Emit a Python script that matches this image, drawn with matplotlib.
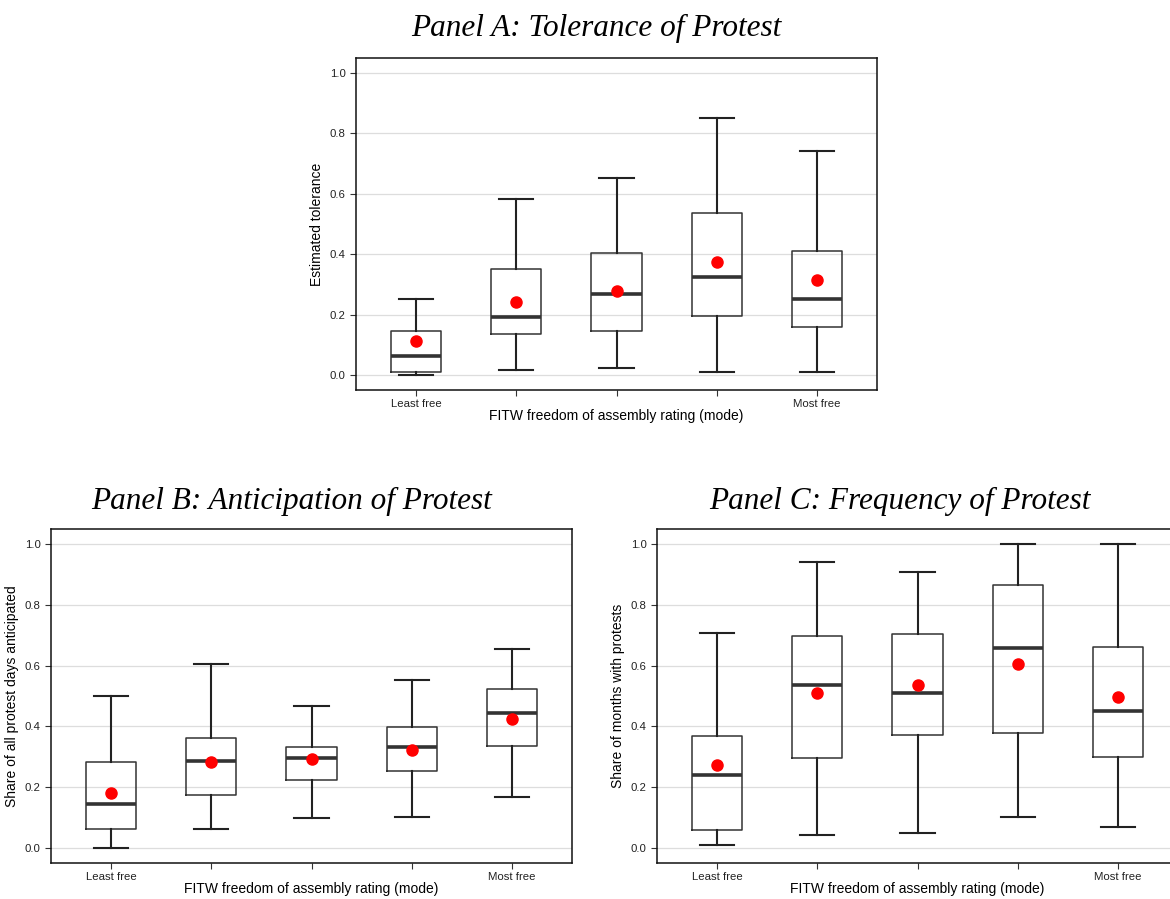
import matplotlib
matplotlib.use("Agg")
import matplotlib.pyplot as plt

plt.rcParams["font.family"] = ["Liberation Sans", "DejaVu Sans"]

categories = ["Least free", "", "", "", "Most free"]

# Panel A: tolerance of protest
tol_whislo = [0.000, 0.016, 0.024, 0.009, 0.009]
tol_q1 = [0.009, 0.136, 0.146, 0.196, 0.159]
tol_med = [0.064, 0.192, 0.267, 0.325, 0.251]
tol_q3 = [0.144, 0.350, 0.404, 0.538, 0.411]
tol_whishi = [0.250, 0.583, 0.651, 0.851, 0.743]
tol_mean = [0.112, 0.243, 0.277, 0.373, 0.315]

# Panel B: anticipation of protest
ant_whislo = [0.000, 0.062, 0.099, 0.100, 0.168]
ant_q1 = [0.061, 0.175, 0.223, 0.253, 0.336]
ant_med = [0.143, 0.286, 0.295, 0.331, 0.443]
ant_q3 = [0.282, 0.363, 0.333, 0.398, 0.523]
ant_whishi = [0.500, 0.606, 0.466, 0.552, 0.655]
ant_mean = [0.179, 0.282, 0.293, 0.323, 0.423]

# Panel C: frequency of protest
freq_whislo = [0.009, 0.043, 0.050, 0.101, 0.067]
freq_q1 = [0.059, 0.295, 0.371, 0.379, 0.300]
freq_med = [0.241, 0.535, 0.509, 0.659, 0.451]
freq_q3 = [0.368, 0.697, 0.703, 0.865, 0.663]
freq_whishi = [0.707, 0.941, 0.908, 1.000, 1.000]
freq_mean = [0.274, 0.510, 0.536, 0.604, 0.497]

W, H = 1170, 899


def _stats(whislo, q1, med, q3, whishi, mean):
    return [
        dict(whislo=a, q1=b, med=c, q3=d, whishi=e, mean=f, fliers=[])
        for a, b, c, d, e, f in zip(whislo, q1, med, q3, whishi, mean)
    ]


def _panel(fig, rect_px, stats, means, ylabel):
    left, top, right, bottom = rect_px
    ax = fig.add_axes([left / W, 1 - bottom / H, (right - left) / W, (bottom - top) / H])
    pos = list(range(1, len(stats) + 1))
    ax.bxp(
        stats,
        positions=pos,
        widths=0.5,
        capwidths=0.34,
        showfliers=False,
        showmeans=False,
        boxprops=dict(color="#333333", linewidth=1.1),
        whiskerprops=dict(color="#222222", linewidth=1.5),
        capprops=dict(color="#222222", linewidth=1.5),
        medianprops=dict(color="#333333", linewidth=2.6),
        zorder=3,
    )
    ax.plot(pos, means, "o", color="red", markersize=8, zorder=4)
    ax.set_xlim(0.4, 5.6)
    ax.set_ylim(-0.05, 1.05)
    ax.set_yticks([0.0, 0.2, 0.4, 0.6, 0.8, 1.0])
    ax.set_yticklabels(["0.0", "0.2", "0.4", "0.6", "0.8", "1.0"])
    ax.set_xticks(pos)
    ax.set_xticklabels(categories)
    ax.yaxis.grid(True, color="#DDDDDD", linewidth=0.9, zorder=0)
    ax.set_axisbelow(True)
    ax.tick_params(axis="both", labelsize=8.2, colors="#333333", length=4, width=0.8)
    ax.tick_params(axis="both", labelcolor="#222222")
    ax.tick_params(axis="x", pad=2.5)
    for s in ax.spines.values():
        s.set_color("#111111")
        s.set_linewidth(1.1)
    ax.set_xlabel("FITW freedom of assembly rating (mode)", fontsize=10, labelpad=0)
    ax.set_ylabel(ylabel, fontsize=10, labelpad=4)
    return ax


fig = plt.figure(figsize=(W / 100, H / 100), dpi=100)

_panel(fig, (356, 58, 877, 390),
       _stats(tol_whislo, tol_q1, tol_med, tol_q3, tol_whishi, tol_mean),
       tol_mean, "Estimated tolerance")
_panel(fig, (51, 529, 572, 863),
       _stats(ant_whislo, ant_q1, ant_med, ant_q3, ant_whishi, ant_mean),
       ant_mean, "Share of all protest days anticipated")
_panel(fig, (657, 529, 1178, 863),
       _stats(freq_whislo, freq_q1, freq_med, freq_q3, freq_whishi, freq_mean),
       freq_mean, "Share of months with protests")

title_kw = dict(fontsize=22.5, style="italic", family="Liberation Serif",
                ha="center", va="center")
fig.text(596 / W, 1 - 28 / H, "Panel A: Tolerance of Protest", **title_kw)
fig.text(292 / W, 1 - 501 / H, "Panel B: Anticipation of Protest", **title_kw)
fig.text(900 / W, 1 - 501 / H, "Panel C: Frequency of Protest", **title_kw)

fig.savefig("out.png", dpi=100)
